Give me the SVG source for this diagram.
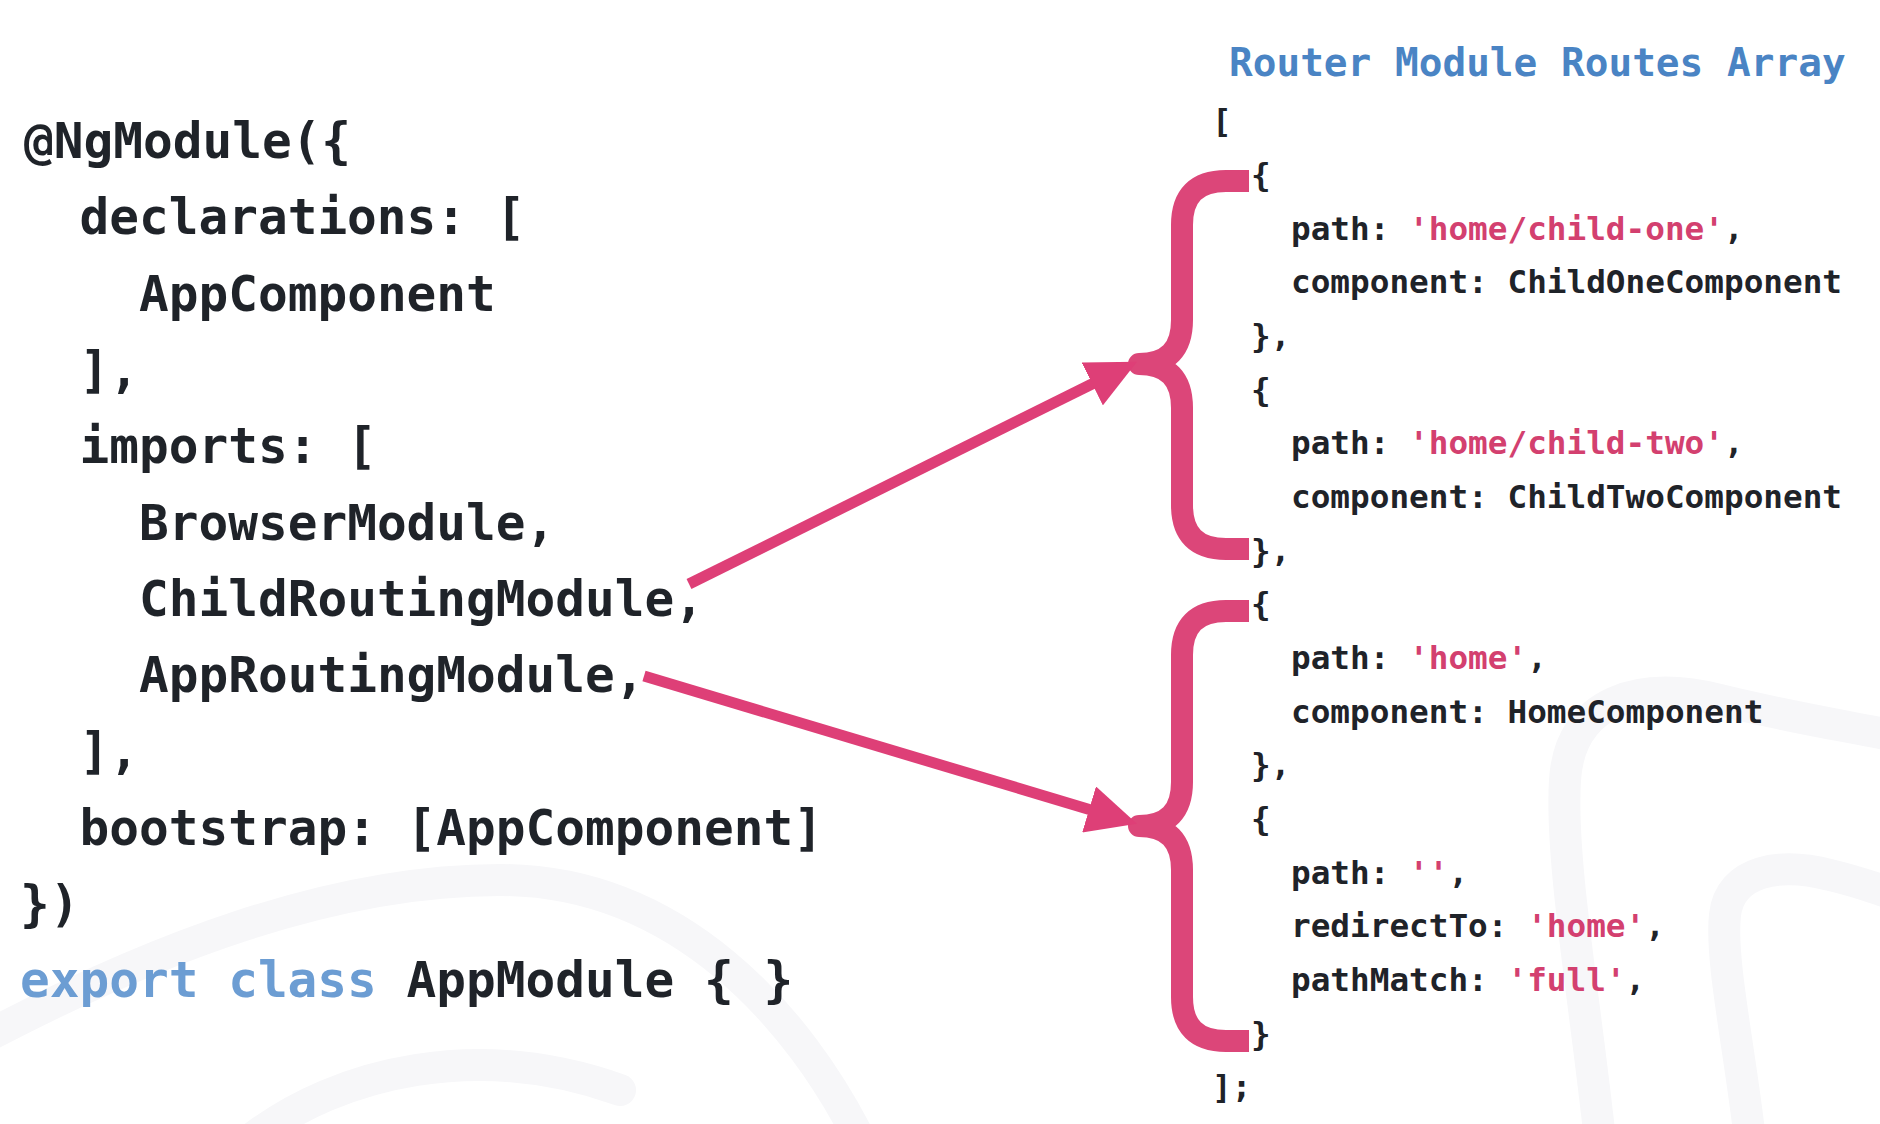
<svg xmlns="http://www.w3.org/2000/svg" width="1880" height="1124" viewBox="0 0 1880 1124">
  <defs>
    <style>
      .code { font-family: "DejaVu Sans Mono", "Liberation Mono", monospace; font-weight: bold; fill: #1f2329; }
      .big { font-size: 49.4px; }
      .small { font-size: 32.7px; }
      .title { font-family: "DejaVu Sans Mono", "Liberation Mono", monospace; font-weight: bold; font-size: 39.4px; fill: #4a84c4; }
      .kw { fill: #6c9dd3; }
      .str { fill: #d3406f; }
      .brace { fill: none; stroke: #dc4679; stroke-width: 22; stroke-linejoin: round; }
      .arrow { fill: none; stroke: #de3f77; stroke-width: 11; }
      .bg { fill: none; stroke: #f7f7f9; stroke-width: 32; stroke-linecap: round; }
    </style>
    <marker id="head" markerUnits="userSpaceOnUse" viewBox="0 0 50 48" refX="2" refY="24" markerWidth="50" markerHeight="48" orient="auto">
      <path d="M0,0 L50,24 L0,48 z" fill="#de3f77"/>
    </marker>
  </defs>

  <rect width="1880" height="1124" fill="#ffffff"/>

  <g id="background-decoration">
    <path class="bg" d="M -20 1040 C 150 950, 330 880, 500 880 C 680 880, 800 1020, 860 1140"/>
    <path class="bg" d="M 250 1140 C 340 1070, 480 1040, 620 1090"/>
    <path class="bg" d="M 1600 1140 C 1585 1000, 1560 860, 1565 780 C 1570 700, 1640 680, 1720 700 C 1780 715, 1840 725, 1890 735"/>
    <path class="bg" d="M 1750 1140 C 1740 1050, 1720 960, 1725 915 C 1730 870, 1780 862, 1830 875 C 1860 882, 1880 890, 1890 893"/>
  </g>

  <g id="ngmodule-code" class="code big">
    <text x="24" y="158">@NgModule({</text>
    <text x="79.5" y="234.3">declarations: [</text>
    <text x="139" y="310.6">AppComponent</text>
    <text x="79.5" y="386.9">],</text>
    <text x="79.5" y="463.2">imports: [</text>
    <text x="139" y="539.5">BrowserModule,</text>
    <text x="139" y="615.8">ChildRoutingModule,</text>
    <text x="139" y="692.1">AppRoutingModule,</text>
    <text x="79.5" y="768.4">],</text>
    <text x="79.5" y="844.7">bootstrap: [AppComponent]</text>
    <text x="20" y="921">})</text>
    <text x="20" y="997.3"><tspan class="kw">export class</tspan> AppModule { }</text>
  </g>

  <g id="routes-title">
    <text class="title" x="1229" y="76">Router Module Routes Array</text>
  </g>

  <g id="routes-array" class="code small">
    <text x="1212" y="132">[</text>
    <text x="1251" y="186">{</text>
    <text x="1291" y="240">path: <tspan class="str">'home/child-one'</tspan>,</text>
    <text x="1291" y="293">component: ChildOneComponent</text>
    <text x="1251" y="347">},</text>
    <text x="1251" y="401">{</text>
    <text x="1291" y="454">path: <tspan class="str">'home/child-two'</tspan>,</text>
    <text x="1291" y="508">component: ChildTwoComponent</text>
    <text x="1251" y="562">},</text>
    <text x="1251" y="615">{</text>
    <text x="1291" y="669">path: <tspan class="str">'home'</tspan>,</text>
    <text x="1291" y="723">component: HomeComponent</text>
    <text x="1251" y="776">},</text>
    <text x="1251" y="830">{</text>
    <text x="1291" y="884">path: <tspan class="str">''</tspan>,</text>
    <text x="1291" y="937">redirectTo: <tspan class="str">'home'</tspan>,</text>
    <text x="1291" y="991">pathMatch: <tspan class="str">'full'</tspan>,</text>
    <text x="1251" y="1045">}</text>
    <text x="1212" y="1098">];</text>
  </g>

  <g id="brace-child-routes">
    <path class="brace" d="M 1249 181 H 1226 Q 1182 181 1182 225 V 320 Q 1182 364 1139 364 Q 1182 364 1182 408 V 505 Q 1182 549 1226 549 H 1249"/>
  </g>

  <g id="brace-app-routes">
    <path class="brace" d="M 1249 611 H 1226 Q 1182 611 1182 655 V 782 Q 1182 826 1139 826 Q 1182 826 1182 870 V 997 Q 1182 1041 1226 1041 H 1249"/>
  </g>

  <g id="connectors">
    <line class="arrow" x1="689" y1="584" x2="1094" y2="383" marker-end="url(#head)"/>
    <line class="arrow" x1="644" y1="676" x2="1091" y2="810" marker-end="url(#head)"/>
  </g>
</svg>
